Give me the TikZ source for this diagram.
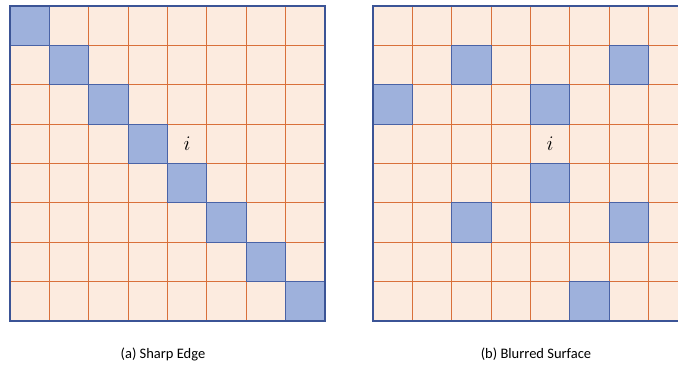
\documentclass[tikz,border=0pt]{standalone}
\usepackage{fontspec}
\setmainfont{Carlito}
\definecolor{cellbg}{HTML}{FCEBDF}
\definecolor{gridor}{HTML}{D9703A}
\definecolor{bluefill}{HTML}{9EB1DC}
\definecolor{blueedge}{HTML}{4A63A6}
\definecolor{frameblue}{HTML}{3B5496}
\tikzset{
  gridline/.style={gridor, line width=1pt},
  bluecell/.style={fill=bluefill, draw=blueedge, line width=1pt},
  frame/.style={draw=frameblue, line width=2pt},
  caption/.style={font=\fontsize{14.5}{16}\selectfont, inner sep=0pt},
  ilabel/.style={font=\fontsize{21}{21}\selectfont, inner sep=0pt}
}
\newcommand{\cs}{39.375}
\begin{document}
\begin{tikzpicture}[x=1pt,y=-1pt]
\useasboundingbox (0,0) rectangle (678,367);
\clip (0,0) rectangle (678,367);
% ---------- left grid ----------
\begin{scope}[shift={(10,6)}]
  \fill[cellbg] (0,0) rectangle (315,315);
  \foreach \k in {1,...,7} {
    \draw[gridline] (\k*\cs,0) -- (\k*\cs,315);
    \draw[gridline] (0,\k*\cs) -- (315,\k*\cs);
  }
  \foreach \r in {0,...,7} {
    \draw[bluecell] (\r*\cs,\r*\cs) rectangle ++(\cs,\cs);
  }
  \node[ilabel] (li) at (4.5*\cs,3.5*\cs) {$i$};
  \draw[frame] (0,0) rectangle (315,315);
\end{scope}
% ---------- right grid ----------
\begin{scope}[shift={(373,6)}]
  \fill[cellbg] (0,0) rectangle (315,315);
  \foreach \k in {1,...,7} {
    \draw[gridline] (\k*\cs,0) -- (\k*\cs,315);
    \draw[gridline] (0,\k*\cs) -- (315,\k*\cs);
  }
  \foreach \c/\r in {2/1,6/1,0/2,4/2,4/4,2/5,6/5,5/7} {
    \draw[bluecell] (\c*\cs,\r*\cs) rectangle ++(\cs,\cs);
  }
  \node[ilabel] (ri) at (4.5*\cs,3.5*\cs) {$i$};
  \draw[frame] (0,0) rectangle (315,315);
\end{scope}
% ---------- captions ----------
\node[caption] (capa) at (163,354) {(a) Sharp Edge};
\node[caption] (capb) at (536,354) {(b) Blurred Surface};
\end{tikzpicture}
\end{document}
